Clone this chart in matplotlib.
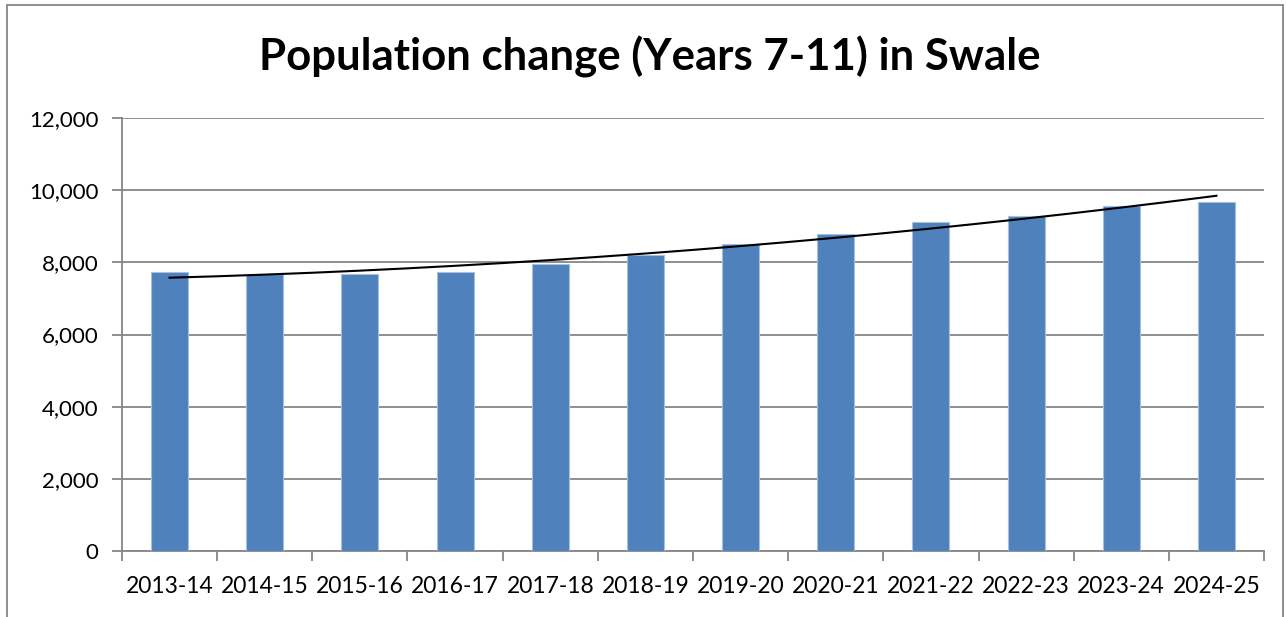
import numpy as np
import matplotlib
matplotlib.use("Agg")
import matplotlib.pyplot as plt
from matplotlib.patches import Rectangle
from matplotlib.ticker import FuncFormatter, MultipleLocator

categories = ["2013-14", "2014-15", "2015-16", "2016-17", "2017-18", "2018-19",
              "2019-20", "2020-21", "2021-22", "2022-23", "2023-24", "2024-25"]
population = [7730, 7680, 7670, 7740, 7950, 8200, 8500, 8780, 9110, 9280, 9560, 9660]
title = "Population change (Years 7-11) in Swale"

W, H = 1286, 617
fig = plt.figure(figsize=(W / 100, H / 100), dpi=100)
ax = fig.add_axes([122 / W, 1 - 551 / H, (1264 - 122) / W, (551 - 118) / H])

x = np.arange(len(categories))
ax.bar(x, population, width=0.39, color="#4F81BD", edgecolor="#A7BFDE",
       linewidth=0.8, zorder=3)

# polynomial (order 2) trendline fitted to the data
coef = np.polyfit(x, population, 2)
xs = np.linspace(0, len(categories) - 1, 200)
ax.plot(xs, np.polyval(coef, xs), color="black", linewidth=1.5, zorder=4)

ax.set_xlim(-0.5, len(categories) - 0.5)
ax.set_ylim(0, 12000)
ax.yaxis.set_major_locator(MultipleLocator(2000))
ax.yaxis.set_major_formatter(FuncFormatter(lambda v, p: f"{int(v):,}"))
ax.grid(axis="y", color="#868686", linewidth=1.3, zorder=0)
ax.set_axisbelow(True)

ax.set_xticks(x)
ax.set_xticklabels(categories, fontsize=16.5, family="Lato")
ax.tick_params(axis="x", length=0, pad=18)
ax.set_xticks(np.arange(-0.5, len(categories)), minor=True)
ax.tick_params(axis="x", which="minor", length=7, width=1.3, color="#868686")
ax.tick_params(axis="y", length=7, width=1.3, color="#868686", labelsize=16, pad=10)
for lab in ax.get_yticklabels():
    lab.set_family("Lato")

for s in ["top", "right"]:
    ax.spines[s].set_visible(False)
for s in ["left", "bottom"]:
    ax.spines[s].set_color("#868686")
    ax.spines[s].set_linewidth(1.3)

fig.text(650 / W, 1 - 57 / H, title, ha="center", va="center",
         fontsize=31.5, fontweight="bold", family="Lato")

fig.patches.append(Rectangle((7 / W, -0.01), (1283 - 7) / W, 1 - 5 / H + 0.01,
                             transform=fig.transFigure, fill=False,
                             edgecolor="#868686", linewidth=1.3))

fig.savefig("out.png", dpi=100)
